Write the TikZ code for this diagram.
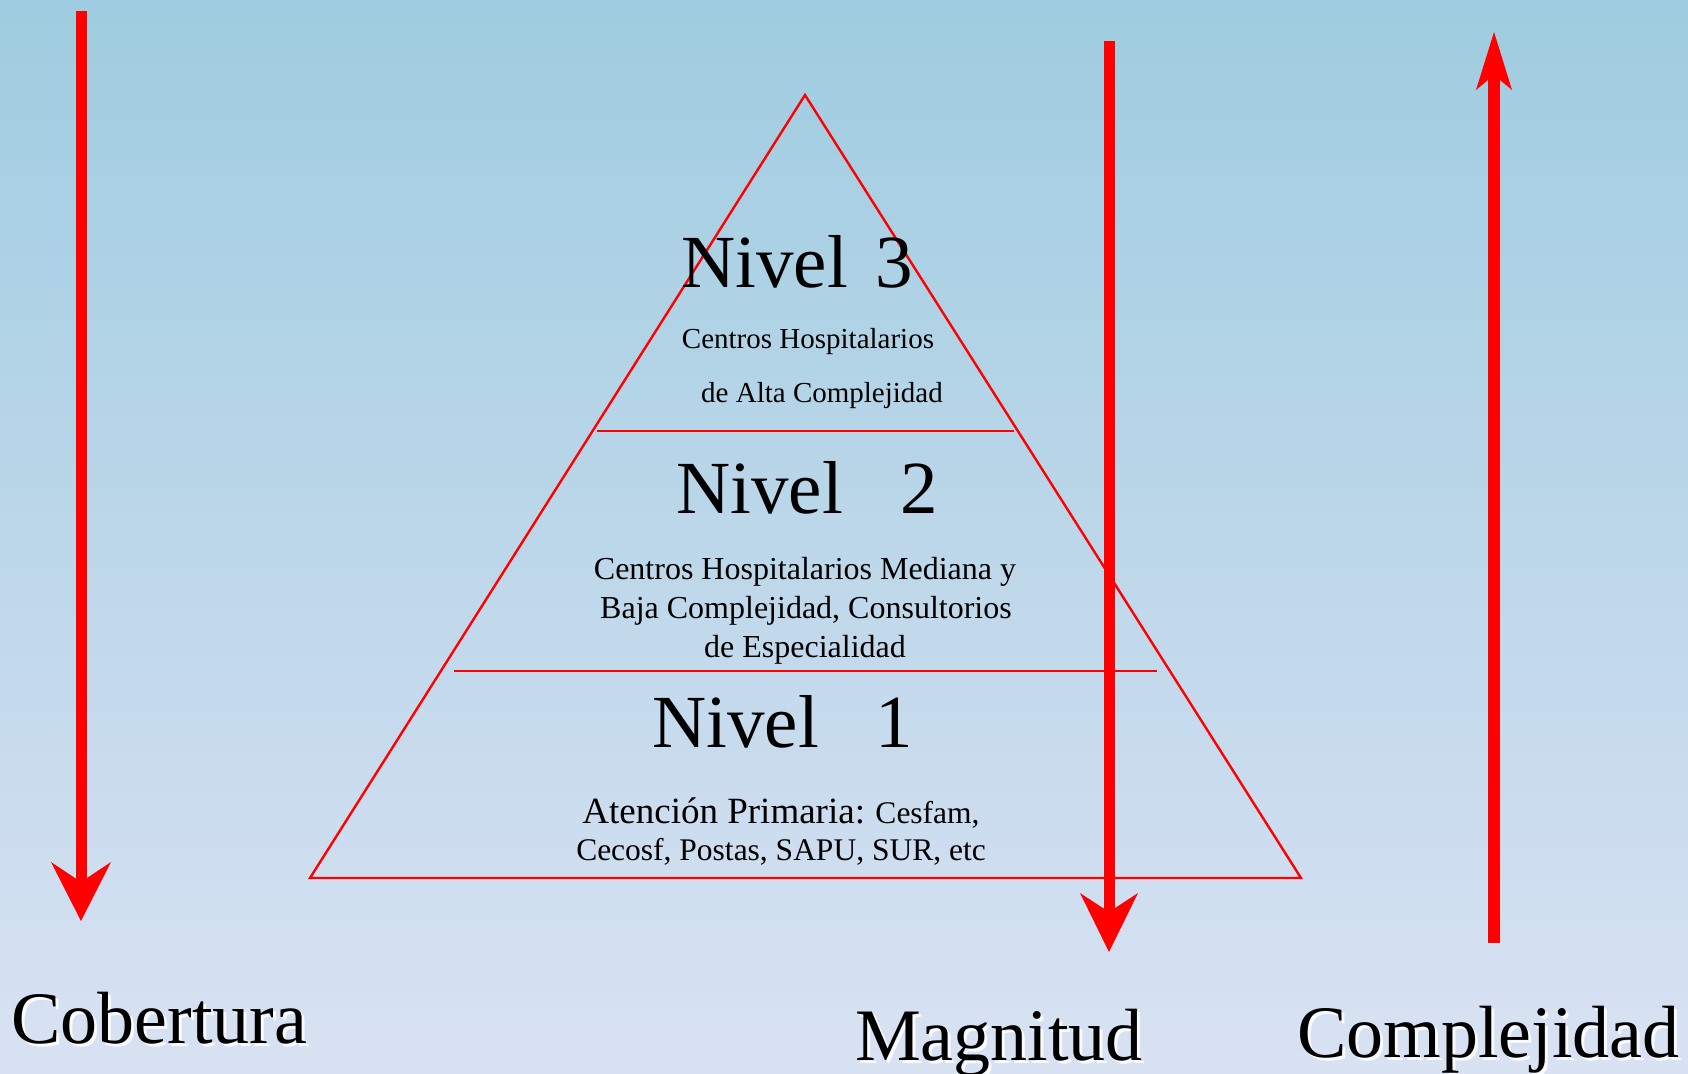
\documentclass[tikz,border=0pt]{standalone}
\usepackage{fontspec}
\setmainfont{Liberation Serif}
\definecolor{bgtop}{RGB}{159,204,224}
\definecolor{bgmid}{RGB}{189,207,235}
\definecolor{bgbot}{RGB}{217,226,243}
\tikzset{
  tri/.style={draw=red, line width=2.4pt, line join=miter},
  divider/.style={draw=red, line width=2pt},
  shaft/.style={draw=red, line width=11pt},
  headfill/.style={fill=red},
  big/.style={font=\fontsize{75}{80}\selectfont, inner sep=0pt, anchor=base west},
  small/.style={font=\fontsize{#1}{#1}\selectfont, inner sep=0pt, anchor=base},
  lbl/.style={font=\fontsize{74}{80}\selectfont, inner sep=0pt, anchor=base west},
  lblshadow/.style={lbl, text=white, opacity=0.85}
}
\begin{document}
\begin{tikzpicture}[x=1pt,y=-1pt]
\useasboundingbox (0,0) rectangle (1688,1073);
\shade[top color=bgtop, middle color=bgmid, bottom color=bgbot] (0,0) rectangle (1688,1073);

% pyramid
\coordinate (apex) at (805,95);
\coordinate (bl) at (310,878);
\coordinate (br) at (1301,878);
\draw[tri] (apex) -- (bl) -- (br) -- cycle;
\coordinate (d1l) at (597,431);
\coordinate (d1r) at (1014,431);
\coordinate (d2l) at (454,671);
\coordinate (d2r) at (1157,671);
\draw[divider] (d1l) -- (d1r);
\draw[divider] (d2l) -- (d2r);

% texts inside
\node[big] (n3) at (681,287) {Nivel\hspace{28pt}3};
\node[small=29] (n3a) at (808,348) {Centros Hospitalarios};
\node[small=29] (n3b) at (822,402) {de Alta Complejidad};

\node[big] (n2) at (676,513) {Nivel\hspace{58pt}2};
\node[small=32] (n2a) at (805,579) {Centros Hospitalarios Mediana y};
\node[small=32] (n2b) at (806,618) {Baja Complejidad, Consultorios};
\node[small=32] (n2c) at (805,657) {de Especialidad};

\node[big] (n1) at (652,747) {Nivel\hspace{57pt}1};
\node[small=31.5] (n1a) at (781,823) {{\fontsize{37}{37}\selectfont Atención Primaria:} Cesfam,};
\node[small=31.5] (n1b) at (781,860) {Cecosf, Postas, SAPU, SUR, etc};

% arrows
\coordinate (cobTop) at (81,11);
\coordinate (cobEnd) at (81,886);
\coordinate (cobTip) at (81,921);
\draw[shaft] (cobTop) -- (cobEnd);
\fill[headfill] (cobTip) -- (111,862) -- (81,882) -- (51,862) -- cycle;

\coordinate (magTop) at (1109,41);
\coordinate (magEnd) at (1109,916);
\coordinate (magTip) at (1109,952);
\draw[shaft] (magTop) -- (magEnd);
\fill[headfill] (magTip) -- (1138,893) -- (1109,912) -- (1080,893) -- cycle;

\coordinate (comBot) at (1494,943);
\coordinate (comEnd) at (1494,72);
\coordinate (comTip) at (1494,32);
\draw[shaft, line width=12pt] (comBot) -- (comEnd);
\fill[headfill] (comTip) -- (1512,90) -- (1494,75) -- (1476,90) -- cycle;

% bottom labels
\node[lblshadow] (cobS) at (14,1046) {Cobertura};
\node[lbl] (cob) at (11,1043) {Cobertura};
\node[lblshadow] (magS) at (858,1063) {Magnitud};
\node[lbl] (mag) at (855,1060) {Magnitud};
\node[lblshadow] (comS) at (1300,1060) {Complejidad};
\node[lbl] (com) at (1297,1057) {Complejidad};
\end{tikzpicture}
\end{document}
